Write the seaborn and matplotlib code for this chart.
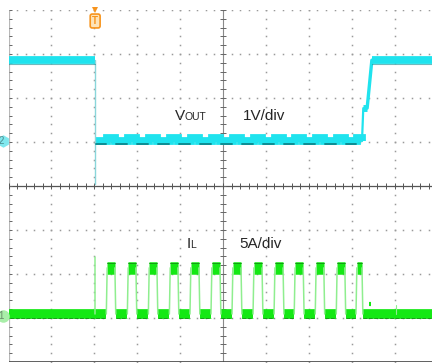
import numpy as np
import pandas as pd
import matplotlib
matplotlib.use("Agg")
import matplotlib.pyplot as plt
import seaborn as sns

# Screen is 10 x 8 divisions, y = 0 on the centre line.
# Vout (channel 2, 1 V/div), levels in divisions
vout_high = 2.86
vout_low = 1.02
vout_bump = 1.09          # Vout while IL is high
vout_dip = 0.05           # bottom of the spike at the drop
vout_step = 1.77          # plateau on the way back up
t_drop = 2.02
t_back = [8.24, 8.27, 8.36, 8.47]   # rise start, plateau start, plateau end, high again

# IL (5 A/div), levels in divisions
il_low = -2.91
il_high = -1.86
il_spike = -1.61
il_rise = [2.30, 2.79, 3.28, 3.77, 4.25, 4.74, 5.23, 5.72, 6.21, 6.68, 7.17, 7.66, 8.12]
il_fall = [2.48, 2.97, 3.46, 3.95, 4.44, 4.93, 5.42, 5.91, 6.40, 6.87, 7.35, 7.84, 8.24]
il_blip_t = [8.40, 8.46]
il_blip_v = -2.68
il_tick_t = 9.03
il_tick_v = -2.70

labels = {"vout": "V", "vout_sub": "OUT", "vscale": "1V/div",
          "il": "I", "il_sub": "L", "iscale": "5A/div"}

cyan = "#1fe3ee"
teal = "#0d8d93"
green = "#14e814"
dgreen = "#128a12"
lgreen = "#8fee8f"
grid_c = "#9a9a9a"

sns.set_theme(style="white")
plt.rcParams["font.family"] = ["Liberation Sans", "DejaVu Sans"]

fig = plt.figure(figsize=(4.32, 3.63), dpi=100)
ax = fig.add_axes([8.5 / 432, 1 / 363, 429 / 432, 352 / 363])
ax.set_xlim(0, 10)
ax.set_ylim(-4, 4)
ax.axis("off")

# graticule: dotted lines made of dots at every minor division
minor = np.arange(0, 41) * 0.2
for gx in [1, 2, 3, 4, 6, 7, 8, 9]:
    ax.plot(np.full_like(minor, gx), minor - 4, ls="none", marker="s", ms=1.1, mew=0, color=grid_c)
minor_x = np.arange(0, 51) * 0.2
for gy in [-3, -2, -1, 1, 2, 3, 4]:
    ax.plot(minor_x, np.full_like(minor_x, gy), ls="none", marker="s", ms=1.1, mew=0, color=grid_c)

ax.axvline(5, color="#8a8a8a", lw=0.8)
ax.axhline(0, color="#555555", lw=0.9)
ax.axvline(0, color="#b8b8b8", lw=1.6)
ax.axhline(-4, color="#444444", lw=1.2)
ax.hlines(minor - 4, 5 - 0.07, 5 + 0.07, color="#666666", lw=0.7)
ax.vlines(minor_x, -0.07, 0.07, color="#555555", lw=0.7)
ax.hlines(minor - 4, 0, 0.07, color="#666666", lw=0.7)

# Vout main band
vt, vv = [0, t_drop], [vout_high, vout_high]
low_t, low_v = [t_drop + 0.01], [vout_low]
for r, f in zip(il_rise, il_fall):
    low_t += [r, r, min(f, t_back[0]), min(f, t_back[0])]
    low_v += [vout_low, vout_bump, vout_bump, vout_low]
rows = []
for t, v in zip(vt, vv):
    rows.append(("high1", t, v))
for t, v in zip(low_t, low_v):
    rows.append(("low", t, v))
for t, v in zip([t_back[3], 10], [vout_high, vout_high]):
    rows.append(("high2", t, v))
vdf = pd.DataFrame(rows, columns=["seg", "t", "v"])
sns.lineplot(data=vdf, x="t", y="v", units="seg", estimator=None, sort=False,
             color=cyan, lw=5.6, ax=ax, legend=False, solid_joinstyle="miter", solid_capstyle="butt")

# Vout return to high level
bdf = pd.DataFrame({"t": [t_back[0], t_back[1]], "v": [vout_low, vout_step]})
sns.lineplot(data=bdf, x="t", y="v", estimator=None, sort=False, color=cyan, lw=1.6, ax=ax)
pdf = pd.DataFrame({"t": [t_back[1], t_back[2]], "v": [vout_step, vout_step]})
sns.lineplot(data=pdf, x="t", y="v", estimator=None, sort=False, color=cyan, lw=5.0, ax=ax,
             solid_capstyle="butt")
rdf = pd.DataFrame({"t": [t_back[2], t_back[3]], "v": [vout_step, vout_high]})
sns.lineplot(data=rdf, x="t", y="v", estimator=None, sort=False, color=cyan, lw=2.4, ax=ax)
# spike at the load step
ax.plot([t_drop, t_drop], [vout_high, vout_dip], color="#8ad6da", lw=1.0)
# darker lower edge of the Vout trace
ax.plot([0, t_drop], [vout_high - 0.09, vout_high - 0.09], color=teal, lw=0.8, alpha=0.6)
ax.plot([t_back[3], 10], [vout_high - 0.09, vout_high - 0.09], color=teal, lw=0.8, alpha=0.6)
gaps = [t_drop] + il_fall
for a, b in zip(gaps[:-1], il_rise):
    ax.plot([a + 0.02, b - 0.02], [vout_low - 0.07, vout_low - 0.07], color=teal, lw=1.4)

# IL bands
low_rows = [("b0", 0, il_low), ("b0", il_rise[0] - 0.02, il_low)]
high_rows = []
for i, (r, f) in enumerate(zip(il_rise, il_fall)):
    high_rows += [(f"h{i}", r, il_high), (f"h{i}", f, il_high)]
    nxt = il_rise[i + 1] - 0.02 if i + 1 < len(il_rise) else 10
    low_rows += [(f"l{i}", f + 0.02, il_low), (f"l{i}", nxt, il_low)]
ldf = pd.DataFrame(low_rows, columns=["seg", "t", "v"])
hdf = pd.DataFrame(high_rows, columns=["seg", "t", "v"])
sns.lineplot(data=ldf, x="t", y="v", units="seg", estimator=None, sort=False,
             color=green, lw=7.0, ax=ax, legend=False, solid_capstyle="butt")
sns.lineplot(data=hdf, x="t", y="v", units="seg", estimator=None, sort=False,
             color=green, lw=9.0, ax=ax, legend=False, solid_capstyle="butt")
# IL edges
for r, f in zip(il_rise, il_fall):
    ax.plot([r - 0.02, r], [il_low, il_high], color=lgreen, lw=1.1)
    ax.plot([f, f + 0.02], [il_high, il_low], color=lgreen, lw=1.1)
ax.plot([t_drop, t_drop], [il_low, il_spike], color=lgreen, lw=1.1)
ax.plot([il_blip_t[0], il_blip_t[1]], [il_blip_v, il_blip_v], color=green, lw=3.0, solid_capstyle="butt")
ax.plot([il_tick_t, il_tick_t], [il_low, il_tick_v], color=lgreen, lw=0.8)
for a, b in zip([0] + il_fall, il_rise + [10]):
    ax.plot([a + 0.03, b - 0.03], [il_low - 0.1, il_low - 0.1], color=dgreen, lw=0.7,
            ls=(0, (4, 1.5)), alpha=0.8)
for r, f in zip(il_rise, il_fall):
    ax.plot([r, f], [il_high + 0.12, il_high + 0.12], color=dgreen, lw=0.7, alpha=0.8)

# labels
ax.text(3.88, 1.5, labels["vout"], fontsize=11, ha="left", va="baseline")
ax.text(4.11, 1.5, labels["vout_sub"], fontsize=7.5, ha="left", va="baseline")
ax.text(5.47, 1.5, labels["vscale"], fontsize=11, ha="left", va="baseline")
ax.text(4.16, -1.41, labels["il"], fontsize=11, ha="left", va="baseline")
ax.text(4.23, -1.41, labels["il_sub"], fontsize=7.5, ha="left", va="baseline")
ax.text(5.37, -1.41, labels["iscale"], fontsize=11, ha="left", va="baseline")

# trigger marker and channel markers
ax.plot([t_drop], [3.99], marker="v", ms=5, color="#f7941d", mew=0, clip_on=False)
ax.text(t_drop, 3.75, "T", fontsize=7, color="#f7941d", ha="center", va="center", fontweight="bold",
        bbox=dict(boxstyle="round,pad=0.2", fc="#fde3b8", ec="#f7941d", lw=1.2))
ax.plot([-0.12], [1.02], marker="h", ms=9, color="#7fe8ee", mew=0, clip_on=False)
ax.text(-0.17, 1.02, "2", fontsize=7, color="#4a8a8e", ha="center", va="center", clip_on=False)
ax.plot([-0.12], [-2.95], marker="o", ms=9, color="#a8eea8", mew=0, clip_on=False)
ax.text(-0.17, -2.95, "1", fontsize=7, color="#6a8a6a", ha="center", va="center", clip_on=False)

fig.savefig("out.png", dpi=100)
